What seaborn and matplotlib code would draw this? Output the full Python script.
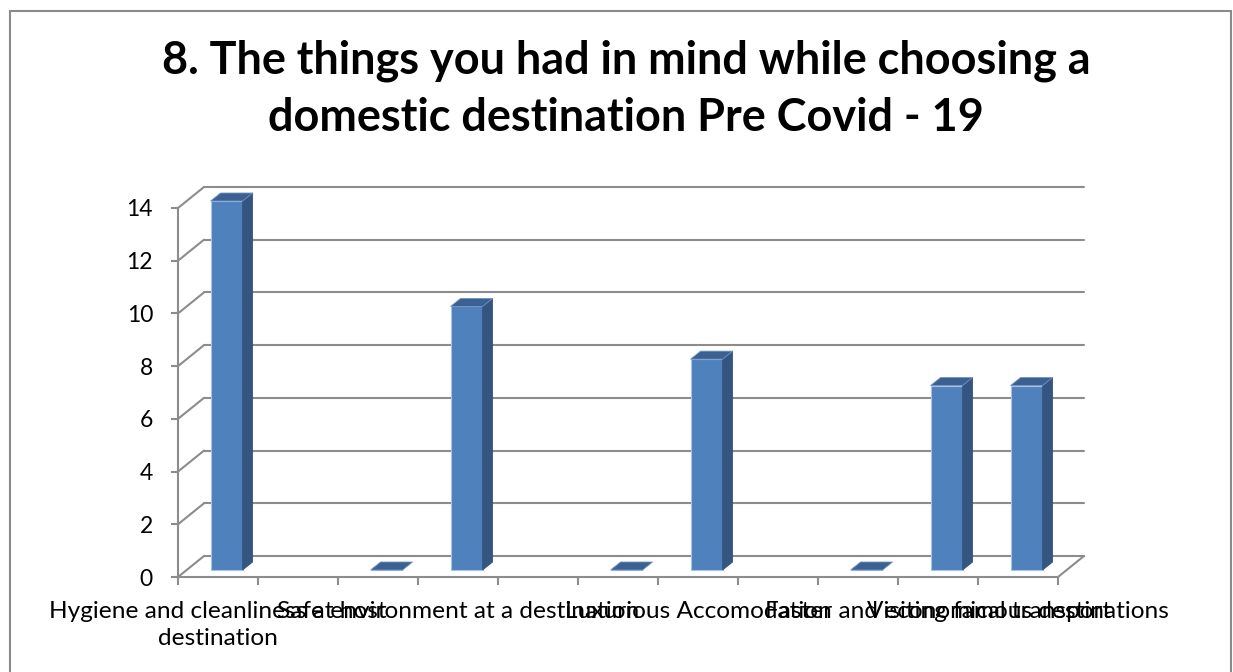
import numpy as np
import pandas as pd
import matplotlib
matplotlib.use("Agg")
import matplotlib.pyplot as plt
from matplotlib.patches import Polygon, Rectangle
from matplotlib.lines import Line2D
from matplotlib.transforms import ScaledTranslation, IdentityTransform
import seaborn as sns

# ---- data -------------------------------------------------------------
title = "8. The things you had in mind while choosing a\ndomestic destination Pre Covid - 19"
slot_labels = [
    "Hygiene and cleanliness at host\ndestination", "", "",
    "Safe environment at a destination", "", "",
    "Luxurious Accomodation", "", "",
    "Faster and economical transport",
    "Visiting famous destinations",
]
responses = [14, np.nan, 0, 10, np.nan, 0, 8, np.nan, 0, 7, 7]
y_ticks = [0, 2, 4, 6, 8, 10, 12, 14]

# ---- figure -----------------------------------------------------------
W, H, DPI = 1233, 672, 100
sns.set_theme(style="white")
plt.rcParams["font.family"] = ["Lato", "DejaVu Sans"]

GRID = "#8C8C8C"
FRONT = "#4F81BD"
SIDE = "#34557F"
TOP = "#3B6192"
EDGE = "#A8C3E4"

fig = plt.figure(figsize=(W / DPI, H / DPI), dpi=DPI)
fig.patch.set_facecolor("white")

# front plane of the 3-D plot box (pixels from top-left)
left_px, right_px, bottom_px, top_px = 178, 1058, 577, 208
ax = fig.add_axes([left_px / W, 1 - bottom_px / H,
                   (right_px - left_px) / W, (bottom_px - top_px) / H])
ax.set_facecolor("none")

df = pd.DataFrame({"slot": np.arange(len(responses)), "value": responses}).dropna()
sns.barplot(data=df, x="slot", y="value", order=list(range(len(responses))),
            width=0.4, color=FRONT, saturation=1, edgecolor=EDGE,
            linewidth=0.8, errorbar=None, ax=ax, zorder=5)

n = len(responses)
ax.set_xlim(-0.5, n - 0.5)
ax.set_ylim(0, max(y_ticks))

# depth of the floor and of the columns (display pixels, y up)
DEPTH = (26, 21)
BAR_FRONT = (8.6, 7.0)
BAR_DEPTH = (10.0, 8.0)

def disp(x, y):
    return ax.transData.transform((x, y))

# back wall gridlines and left wall diagonals
for v in y_ticks:
    x0, y0 = disp(-0.5, v)
    x1, _ = disp(n - 0.5, v)
    ax.add_artist(Line2D([x0 + DEPTH[0], x1 + DEPTH[0]], [y0 + DEPTH[1], y0 + DEPTH[1]],
                         transform=IdentityTransform(), color=GRID, lw=1.5,
                         clip_on=False, zorder=1))
    ax.add_artist(Line2D([x0, x0 + DEPTH[0]], [y0, y0 + DEPTH[1]],
                         transform=IdentityTransform(), color=GRID, lw=1.5,
                         clip_on=False, zorder=1))
# right edge of the floor
xr, yr = disp(n - 0.5, 0)
ax.add_artist(Line2D([xr, xr + DEPTH[0]], [yr, yr + DEPTH[1]],
                     transform=IdentityTransform(), color=GRID, lw=1.5,
                     clip_on=False, zorder=1))

# columns: shift front faces into the box, add side and top faces
shift = ScaledTranslation(BAR_FRONT[0] / DPI, BAR_FRONT[1] / DPI, fig.dpi_scale_trans)
for p in list(ax.patches):
    p.set_transform(ax.transData + shift)
    p.set_clip_on(False)
    xl, yb = disp(p.get_x(), 0)
    xrr, yt = disp(p.get_x() + p.get_width(), p.get_height())
    xl += BAR_FRONT[0]; xrr += BAR_FRONT[0]
    yb += BAR_FRONT[1]; yt += BAR_FRONT[1]
    dx, dy = BAR_DEPTH
    if yt - yb > 0.5:
        side = Polygon([(xrr, yb), (xrr + dx, yb + dy), (xrr + dx, yt + dy), (xrr, yt)],
                       closed=True, transform=IdentityTransform(), facecolor=SIDE,
                       edgecolor=SIDE, lw=0.6, clip_on=False, zorder=6)
        ax.add_artist(side)
    top = Polygon([(xl, yt), (xrr, yt), (xrr + dx, yt + dy), (xl + dx, yt + dy)],
                  closed=True, transform=IdentityTransform(), facecolor=TOP,
                  edgecolor="#6F93C2", lw=0.6, clip_on=False, zorder=6)
    ax.add_artist(top)

# axes lines and ticks
for s in ["top", "right"]:
    ax.spines[s].set_visible(False)
for s in ["left", "bottom"]:
    ax.spines[s].set_color(GRID)
    ax.spines[s].set_linewidth(1.5)
    ax.spines[s].set_zorder(2)

ax.set_yticks(y_ticks)
ax.set_yticklabels([str(t) for t in y_ticks])
ax.tick_params(axis="y", which="major", length=5, width=1.5, color=GRID,
               labelsize=16.5, labelcolor="black", pad=13, left=True)

ax.set_xticks(np.arange(-0.5, n, 1.0))
ax.set_xticklabels([])
ax.set_xticks(np.arange(n), minor=True)
ax.set_xticklabels(slot_labels, minor=True, fontsize=17.6, ha="center", linespacing=1.35)
ax.tick_params(axis="x", which="major", length=6, width=1.5, color=GRID, bottom=True)
ax.tick_params(axis="x", which="minor", length=0, pad=17, labelcolor="black")
ax.set_xlabel("")
ax.set_ylabel("")
ax.grid(False)

# chart title
fig.text(626 / W, 1 - 40 / H, title, ha="center", va="top", fontsize=32.4,
         fontweight="bold", color="black", linespacing=1.42)

# chart border
fig.add_artist(Rectangle((10 / W, -0.05), (1231 - 10) / W, 1.05 - 10.5 / H,
                         transform=fig.transFigure, fill=False,
                         edgecolor="#8A8A8A", lw=1.5))

fig.savefig("out.png", dpi=DPI)
